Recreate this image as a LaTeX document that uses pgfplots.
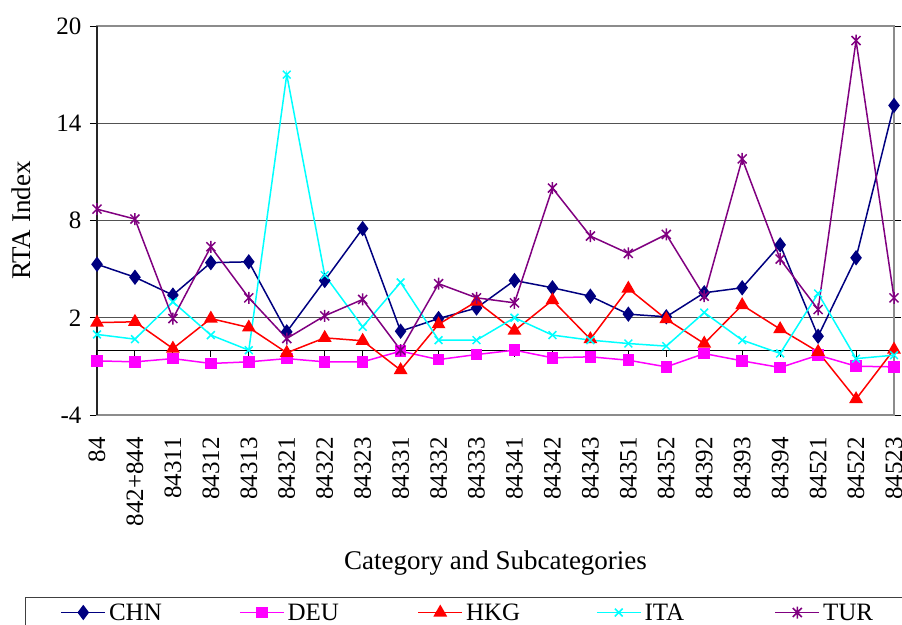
\documentclass[border=0pt]{standalone}
\usepackage{pgfplots}
\pgfplotsset{compat=1.18}
\usepackage{pgfplotstable}
\usepackage{fontspec}
\setmainfont{Liberation Serif}
\definecolor{cCHN}{HTML}{000080}
\definecolor{cDEU}{HTML}{FF00FF}
\definecolor{cHKG}{HTML}{FF0000}
\definecolor{cITA}{HTML}{00FFFF}
\definecolor{cTUR}{HTML}{800080}
\pgfdeclareplotmark{xstar}{%
  \pgfpathmoveto{\pgfqpoint{0pt}{\pgfplotmarksize}}%
  \pgfpathlineto{\pgfqpoint{0pt}{-\pgfplotmarksize}}%
  \pgfpathmoveto{\pgfqpoint{-0.75\pgfplotmarksize}{-0.75\pgfplotmarksize}}%
  \pgfpathlineto{\pgfqpoint{0.75\pgfplotmarksize}{0.75\pgfplotmarksize}}%
  \pgfpathmoveto{\pgfqpoint{-0.75\pgfplotmarksize}{0.75\pgfplotmarksize}}%
  \pgfpathlineto{\pgfqpoint{0.75\pgfplotmarksize}{-0.75\pgfplotmarksize}}%
  \pgfusepathqstroke}
\pgfplotstableread{
x CHN DEU HKG ITA TUR
0 5.3 -0.66 1.7 0.97 8.7
1 4.5 -0.72 1.75 0.68 8.09
2 3.4 -0.52 0.1 2.98 1.95
3 5.4 -0.82 1.95 0.93 6.38
4 5.45 -0.72 1.4 0.0 3.23
5 1.13 -0.52 -0.16 17.0 0.72
6 4.3 -0.72 0.76 4.63 2.12
7 7.5 -0.72 0.58 1.44 3.13
8 1.17 -0.06 -1.23 4.18 0.0
9 1.95 -0.58 1.6 0.62 4.1
10 2.6 -0.27 3.0 0.62 3.23
11 4.3 0.0 1.2 2.0 2.92
12 3.85 -0.47 3.08 0.93 10.0
13 3.33 -0.41 0.68 0.62 7.04
14 2.22 -0.62 3.8 0.41 5.97
15 2.06 -1.03 1.91 0.25 7.14
16 3.54 -0.21 0.41 2.32 3.33
17 3.85 -0.66 2.78 0.62 11.8
18 6.5 -1.07 1.3 -0.2 5.62
19 0.86 -0.31 -0.1 3.5 2.51
20 5.7 -0.99 -3.02 -0.52 19.1
21 15.1 -1.03 0.04 -0.31 3.23
}\datatable
\begin{document}
\begin{tikzpicture}
\begin{axis}[
  width=797pt, height=389pt, scale only axis,
  xmin=0, xmax=21, ymin=-4, ymax=20,
  clip=false,
  /pgf/number format/assume math mode=true,
  xtick={0,...,21},
  xticklabels={84,842+844,84311,84312,84313,84321,84322,84323,84331,84332,84333,84341,84342,84343,84351,84352,84392,84393,84394,84521,84522,84523},
  xtick style={draw=none},
  ytick={-4,2,8,14,20},
  ymajorgrids,
  grid style={draw=black!68, line width=1.3pt},
  axis line style={draw=black!45, line width=1.3pt},
  tick align=outside,
  major tick length=7pt,
  ytick style={draw=black, line width=1pt},
  tick label style={font=\fontsize{25}{30}\selectfont},
  xticklabel style={yshift=-15pt, rotate=90, anchor=east, inner sep=0pt},
  yticklabel style={xshift=-5pt},
  label style={font=\fontsize{27}{32}\selectfont},
  xlabel={Category and Subcategories},
  xlabel style={at={(axis description cs:0.5,-0.3805)}, anchor=center},
  ylabel={RTA Index},
  ylabel style={at={(axis description cs:-0.0954,0.5)}, anchor=center},
  legend columns=5,
  legend style={at={(axis description cs:-0.0903,-0.4679)}, anchor=north west,
    draw=black!75, line width=1pt, inner xsep=35pt, inner ysep=3pt,
    font=\fontsize{25}{30}\selectfont,
    nodes={text width=127pt, align=left, inner xsep=3pt, inner ysep=3pt, text height=17pt, text depth=1pt}},
  legend image code/.code={\draw[mark repeat=2,mark phase=2] plot coordinates {(0pt,0pt) (22pt,0pt) (44pt,0pt)};},
  every axis plot/.append style={line width=1.5pt, mark options={solid}},
]
\draw[black!85, line width=1.6pt] (rel axis cs:0,0) -- (rel axis cs:0,1);
\draw[black, line width=1.2pt] (axis cs:0,0) -- (axis cs:21,0);
\pgfplotsinvokeforeach{0,...,21}{\draw[black, line width=1pt] (axis cs:#1,0) -- ++(0pt,-7pt);}
\addplot[color=cCHN, mark=diamond*, mark size=6.5pt, mark options={fill=cCHN}] table[x=x,y=CHN]{\datatable};
\addlegendentry{CHN}
\addplot[color=cDEU, mark=square*, mark size=5pt, mark options={fill=cDEU}] table[x=x,y=DEU]{\datatable};
\addlegendentry{DEU}
\addplot[color=cHKG, mark=triangle*, mark size=6.5pt, mark options={fill=cHKG}] table[x=x,y=HKG]{\datatable};
\addlegendentry{HKG}
\addplot[color=cITA, mark=x, mark size=5.5pt] table[x=x,y=ITA]{\datatable};
\addlegendentry{ITA}
\addplot[color=cTUR, mark=xstar, mark size=6pt] table[x=x,y=TUR]{\datatable};
\addlegendentry{TUR}
\end{axis}
\pgfresetboundingbox
\path[use as bounding box] ([xshift=-97pt,yshift=26pt]current axis.north west) rectangle ([xshift=8pt,yshift=-209pt]current axis.south east);
\end{tikzpicture}
\end{document}
